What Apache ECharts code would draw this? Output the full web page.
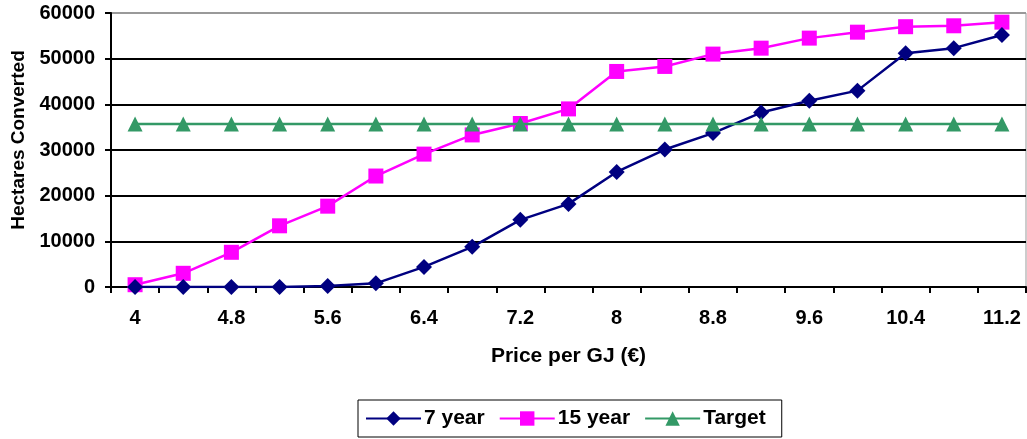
<!DOCTYPE html>
<html><head><meta charset="utf-8">
<script src="https://cdn.jsdelivr.net/npm/echarts@6/dist/echarts.min.js"></script>
<style>html,body{margin:0;padding:0;background:#fff}#c{width:1027px;height:439px}</style>
</head><body><div id="c"></div>
<script>
const categories = ['4','4.4','4.8','5.2','5.6','6','6.4','6.8','7.2','7.6','8','8.4','8.8','9.2','9.6','10','10.4','10.8','11.2'];
const sevenYear = [0,0,0,0,200,800,4400,8800,14700,18200,25200,30100,33700,38200,40800,43000,51200,52300,55200];
const fifteenYear = [500,3000,7600,13400,17700,24300,29100,33300,35800,39000,47200,48300,51000,52300,54500,55800,57000,57200,58000];
const target = [35700,35700,35700,35700,35700,35700,35700,35700,35700,35700,35700,35700,35700,35700,35700,35700,35700,35700,35700];
const font = 'Liberation Sans, Arial, sans-serif';
const chart = echarts.init(document.getElementById('c'));
chart.setOption({
  animation: false,
  grid: {left: 111, right: 1, top: 13, bottom: 152, show: true, borderColor: '#999', borderWidth: 1},
  graphic: [{
    type: 'text', x: 19, y: 140, rotation: Math.PI / 2,
    style: {text: 'Hectares Converted', textAlign: 'center', textVerticalAlign: 'middle',
            font: 'bold 19px Liberation Sans, Arial, sans-serif', fill: '#000'}
  }],
  legend: {
    left: 358, top: 400,
    borderColor: '#000', borderWidth: 1, padding: [8, 16, 8, 7], itemGap: 14,
    itemWidth: 55, itemHeight: 18,
    textStyle: {fontFamily: font, fontWeight: 'bold', fontSize: 21, color: '#000', padding: [0,0,0,-2]},
    data: ['7 year', '15 year', 'Target']
  },
  xAxis: {
    type: 'category', data: categories, boundaryGap: true,
    name: 'Price per GJ (€)', nameLocation: 'middle', nameGap: 59,
    nameTextStyle: {fontFamily: font, fontWeight: 'bold', fontSize: 21, color: '#000'},
    axisLine: {lineStyle: {color: '#000', width: 2}},
    axisTick: {show: true, interval: 0, length: 6, lineStyle: {color: '#000', width: 2}},
    axisLabel: {interval: 1, margin: 21, fontFamily: font, fontWeight: 'bold', fontSize: 20, color: '#000'}
  },
  yAxis: {
    type: 'value', min: 0, max: 60000, interval: 10000,
    axisLine: {show: true, lineStyle: {color: '#000', width: 2}},
    axisTick: {show: true, length: 6, lineStyle: {color: '#000', width: 2}},
    axisLabel: {margin: 16, fontFamily: font, fontWeight: 'bold', fontSize: 20, color: '#000',
                formatter: function (v) { return String(v); }},
    splitLine: {show: true, lineStyle: {color: ['#000','#000','#000','#000','#000','#000','#999'], width: 2}}
  },
  series: [
    {name: '7 year', type: 'line', data: sevenYear, symbol: 'diamond', symbolSize: 16,
     itemStyle: {color: '#000080'}, lineStyle: {color: '#000080', width: 2.5}, z: 3},
    {name: '15 year', type: 'line', data: fifteenYear, symbol: 'rect', symbolSize: 15,
     itemStyle: {color: '#FF00FF'}, lineStyle: {color: '#FF00FF', width: 2.5}, z: 2},
    {name: 'Target', type: 'line', data: target, symbol: 'triangle', symbolSize: 15,
     itemStyle: {color: '#339966'}, lineStyle: {color: '#339966', width: 2.5}, z: 4}
  ]
});
</script></body></html>
